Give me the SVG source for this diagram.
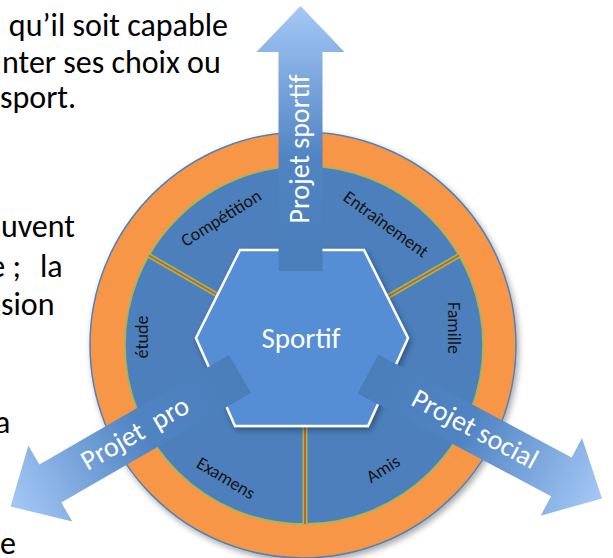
<svg xmlns="http://www.w3.org/2000/svg" width="613" height="558" viewBox="0 0 613 558">
  <defs>
    <style>
      .para{font-family:Carlito,Lato,"Liberation Sans",sans-serif;font-size:32px;fill:#000}
      .seg{font-family:Carlito,Lato,"Liberation Sans",sans-serif;font-size:18px;fill:#141414;text-anchor:middle}
      .atxt{font-family:Carlito,Lato,"Liberation Sans",sans-serif;font-size:28px;fill:#fff;text-anchor:middle}
      .hubtxt{font-family:Carlito,Lato,"Liberation Sans",sans-serif;font-size:29px;fill:#fff;text-anchor:middle}
      .arrow{fill:url(#arrowGrad)}
      .divA{stroke:#9BBB59;stroke-width:5;stroke-linecap:butt}
      .divB{stroke:#C9602C;stroke-width:2}
    </style>
    <linearGradient id="arrowGrad" gradientUnits="userSpaceOnUse" x1="0" y1="0" x2="265" y2="0">
      <stop offset="0" stop-color="#4A7EBB"/>
      <stop offset="0.42" stop-color="#4F83C2"/>
      <stop offset="1" stop-color="#A5C8F6"/>
    </linearGradient>
    <filter id="shadow" x="-10%" y="-10%" width="125%" height="125%">
      <feGaussianBlur in="SourceAlpha" stdDeviation="3"/>
      <feOffset dx="2" dy="3" result="b"/>
      <feComponentTransfer><feFuncA type="linear" slope="0.35"/></feComponentTransfer>
      <feMerge><feMergeNode/><feMergeNode in="SourceGraphic"/></feMerge>
    </filter>
    <polygon id="arrowShape" points="0,-22 219,-22 219,-44 265,0 219,44 219,22 0,22"/>
  </defs>

  <!-- surrounding paragraph text -->
  <g id="paragraph">
    <text class="para" x="228" y="36" text-anchor="end">qu’il soit capable</text>
    <text class="para" x="2" y="73">nter ses choix ou</text>
    <text class="para" x="0" y="108">sport.</text>
    <text class="para" x="75" y="237" text-anchor="end">ouvent</text>
    <text class="para" x="21" y="277" text-anchor="end">e ;</text>
    <text class="para" x="40" y="277">la</text>
    <text class="para" x="1" y="315">sion</text>
    <text class="para" x="-5" y="433">a</text>
    <text class="para" x="0" y="554">e</text>
  </g>

  <!-- outer orange ring -->
  <g id="ring">
    <circle cx="303" cy="345" r="213" fill="#F79646" stroke="#4F81BD" stroke-width="1.5" filter="url(#shadow)"/>
  </g>

  <!-- six sectors -->
  <g id="sectors">
    <circle cx="304" cy="345" r="179" fill="#4C7FBC" stroke="#9BBB59" stroke-width="1.5"/>
  </g>

  <g id="connectors">
    <line class="divA" x1="304" y1="345" x2="459" y2="255.5"/>
    <line class="divB" x1="304" y1="345" x2="459" y2="255.5"/>
    <line class="divA" x1="304" y1="345" x2="149" y2="255.5"/>
    <line class="divB" x1="304" y1="345" x2="149" y2="255.5"/>
    <line class="divA" x1="305" y1="345" x2="305" y2="524"/>
    <line class="divB" x1="305" y1="345" x2="305" y2="524"/>
  </g>

  <g id="seg-competition"><text class="seg" transform="translate(221,218) rotate(-32)" y="6">Compétition</text></g>
  <g id="seg-entrainement"><text class="seg" transform="translate(386,224) rotate(36)" y="6">Entraînement</text></g>
  <g id="seg-famille"><text class="seg" transform="translate(454,328) rotate(90)" y="6">Famille</text></g>
  <g id="seg-etude"><text class="seg" transform="translate(142,337) rotate(-90)" y="6">étude</text></g>
  <g id="seg-examens"><text class="seg" transform="translate(226,478) rotate(31)" y="6">Examens</text></g>
  <g id="seg-amis"><text class="seg" transform="translate(383,469) rotate(-32)" y="6">Amis</text></g>

  <!-- central hub -->
  <g id="hub">
    <polygon points="196,338 240,250 364,250 408,338 368,426 235,426" fill="#558ED5" stroke="#fff" stroke-width="2.5" stroke-linejoin="miter" filter="url(#shadow)"/>
    <text class="hubtxt" x="301" y="348">Sportif</text>
  </g>

  <!-- outgoing project arrows -->
  <g id="arrow-sportif">
    <use href="#arrowShape" class="arrow" transform="translate(300.5,271) rotate(-90)"/>
    <text class="atxt" transform="translate(309,149) rotate(-90)">Projet sportif</text>
  </g>
  <g id="arrow-pro">
    <use href="#arrowShape" class="arrow" transform="translate(240,374) rotate(150)"/>
    <text class="atxt" transform="translate(139.5,441) rotate(-30)" xml:space="preserve">Projet  pro</text>
  </g>
  <g id="arrow-social">
    <use href="#arrowShape" class="arrow" transform="translate(368,374) rotate(28)"/>
    <text class="atxt" transform="translate(470.7,437) rotate(28)">Projet social</text>
  </g>
</svg>
